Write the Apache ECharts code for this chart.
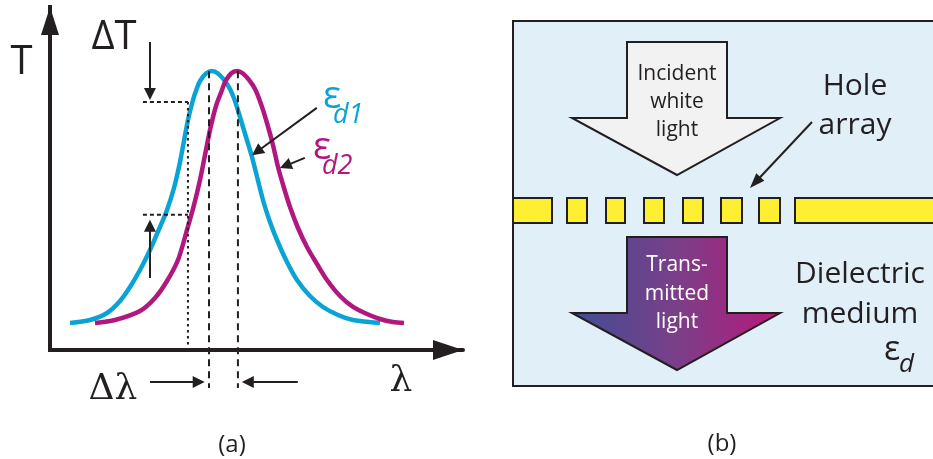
<!DOCTYPE html>
<html>
<head>
<meta charset="utf-8">
<script src="https://cdn.jsdelivr.net/npm/echarts@6/dist/echarts.min.js"></script>
<style>html,body{margin:0;padding:0;background:#fff}#c{width:933px;height:459px}</style>
</head>
<body>
<div id="c"></div>
<script>
// ---- data (arbitrary units: wavelength 0-100, transmission 0-100) ----
const cyanLambda = [4.84, 9.69, 13.80, 16.95, 19.37, 21.79, 24.21, 26.63, 28.33, 30.02, 31.48, 33.41, 34.62, 35.59, 36.32, 37.77, 39.23,
  40.68, 42.13, 43.58, 44.79, 46.00, 47.46, 48.91, 51.57, 53.27, 54.96, 57.38, 59.81, 62.95, 66.10, 69.73, 73.37, 79.90];
const cyanT = [7.87, 8.75, 10.79, 14.29, 18.37, 23.32, 29.15, 35.86, 40.82, 47.23, 54.81, 67.06, 72.89, 76.38, 78.43, 80.61, 81.34,
  80.61, 78.72, 76.09, 72.59, 67.93, 62.10, 56.27, 43.73, 37.32, 32.07, 25.66, 20.41, 15.74, 12.54, 10.20, 8.75, 7.87];
const magLambda = [10.90, 15.74, 21.79, 25.42, 28.33, 30.99, 33.17, 34.87, 36.32, 37.53, 38.74, 40.19, 41.65, 42.37, 43.83, 45.28,
  46.73, 48.18, 49.64, 51.09, 52.54, 53.99, 55.21, 56.66, 58.11, 60.05, 62.23, 64.65, 67.07, 70.22, 73.37, 76.76, 79.90, 83.05, 85.71];
const magT = [7.87, 8.75, 11.37, 15.16, 20.12, 26.24, 34.99, 42.27, 49.56, 56.85, 64.14, 71.14, 75.80, 78.13, 80.61, 81.34,
  80.61, 78.72, 76.09, 71.72, 66.18, 59.77, 53.35, 47.23, 41.69, 35.57, 30.03, 25.07, 20.41, 15.74, 12.54, 10.50, 9.04, 8.16, 7.87];
const peakLambda = [38.5, 45.5];          // dashed lines at the two peaks
const peakT = 81.3;
const halfLambda = 33.4;                  // dotted guide
const guideT = [72.3, 39.4];              // dotted horizontal guides (ΔT)
const guideStart = 22.5;
const belowAxis = -11.1;

const INK = '#231f20', CYAN = '#0aa3d5', MAG = '#b0187f';

const chart = echarts.init(document.getElementById('c'), null, {renderer: 'canvas'});

function zip(a, b) { return a.map((v, i) => [v, b[i]]); }
function guide(data, type, z) {
  return {type: 'line', data: data, symbol: 'none', clip: false, silent: true, z: z || 5,
    lineStyle: {color: INK, width: 2, type: type}};
}
function arr(x1, y1, x2, y2) { return {coords: [[x1, y1], [x2, y2]]}; }

// arrowhead polygon for graphic arrows (panel b)
function head(x1, y1, x2, y2, len, hw) {
  const dx = x2 - x1, dy = y2 - y1, L = Math.hypot(dx, dy);
  const ux = dx / L, uy = dy / L, bx = x2 - ux * len, by = y2 - uy * len;
  return [[x2, y2], [bx - uy * hw, by + ux * hw], [bx + uy * hw, by - ux * hw]];
}

const holeX = [[513, 552], [567, 587], [606, 625], [644, 664], [683, 703], [721, 742], [759, 780], [795, 945]];
const font = 'Open Sans';
const serif = 'DejaVu Serif';

function txt(text, x, y, size, color, opts) {
  return Object.assign({type: 'text', x: x, y: y, silent: true, z: 100,
    style: Object.assign({text: text, fill: color || INK, fontSize: size, fontFamily: font,
      align: 'center', verticalAlign: 'middle'}, opts || {})});
}

const graphics = [
  // panel (a) labels
  txt('T', 21.5, 63, 40),
  txt('ΔT', 114, 38, 40),
  txt('Δλ', 113, 390, 36, INK, {fontFamily: serif}),
  txt('λ', 401, 382, 36, INK, {fontFamily: serif}),
  txt('ε', 332, 97, 38, CYAN),
  txt('d1', 333, 115, 27, CYAN, {align: 'left', fontStyle: 'italic'}),
  txt('ε', 322, 148, 38, MAG),
  txt('d2', 322, 166, 27, MAG, {align: 'left', fontStyle: 'italic'}),
  txt('(a)', 232, 445, 24),
  txt('(b)', 722, 444, 24),
  // panel (b)
  {type: 'rect', shape: {x: 513, y: 21, width: 440, height: 365}, z: 1,
    style: {fill: '#e1eff8', stroke: INK, lineWidth: 2}},
  {type: 'polygon', z: 2, shape: {points: [[627, 42], [727, 42], [727, 118], [780, 118], [677, 175], [572, 118], [627, 118]]},
    style: {fill: '#f2f2f2', stroke: INK, lineWidth: 2}},
  {type: 'polygon', z: 2, shape: {points: [[627, 237], [727, 237], [727, 313], [780, 313], [677, 370], [572, 313], [627, 313]]},
    style: {fill: new echarts.graphic.LinearGradient(0, 0, 1, 0, [{offset: 0, color: '#3f4e95'}, {offset: 0.5, color: '#7a3f88'}, {offset: 1, color: '#b8187c'}]),
      stroke: INK, lineWidth: 2}},
  {type: 'line', z: 3, shape: {x1: 812, y1: 122, x2: 757, y2: 180.5}, style: {stroke: INK, lineWidth: 2}},
  {type: 'polygon', z: 3, shape: {points: head(812, 122, 750, 188, 15, 5.5)}, style: {fill: INK}},
  txt('Incident', 677, 74, 21),
  txt('white', 677, 102.5, 21),
  txt('light', 677, 130.5, 21),
  txt('Hole', 855, 86, 30),
  txt('array', 855, 125, 30),
  txt('Trans-', 677, 265, 21, '#ffffff'),
  txt('mitted', 677, 294, 21, '#ffffff'),
  txt('light', 677, 322, 21, '#ffffff'),
  txt('Dielectric', 860, 274, 30),
  txt('medium', 860, 314, 30),
  txt('ε', 892, 350, 34),
  txt('d', 899, 365, 26, INK, {align: 'left', fontStyle: 'italic'})
];
holeX.forEach(function (h) {
  graphics.push({type: 'rect', z: 4, shape: {x: h[0], y: 198, width: h[1] - h[0], height: 25},
    style: {fill: '#ffef33', stroke: INK, lineWidth: 2}});
});

const option = {
  animation: false,
  backgroundColor: '#ffffff',
  grid: {left: 50, top: 7, width: 413, height: 343},
  xAxis: {type: 'value', min: 0, max: 100,
    axisLine: {show: true, onZero: false, symbol: ['none', 'triangle'], symbolSize: [20, 30], symbolOffset: [0, -15],
      lineStyle: {color: INK, width: 4}},
    axisTick: {show: false}, axisLabel: {show: false}, splitLine: {show: false}},
  yAxis: {type: 'value', min: 0, max: 100,
    axisLine: {show: true, onZero: false, symbol: ['none', 'triangle'], symbolSize: [18, 28], symbolOffset: [0, -14],
      lineStyle: {color: INK, width: 4, cap: 'square'}},
    axisTick: {show: false}, axisLabel: {show: false}, splitLine: {show: false}},
  series: [
    {type: 'line', data: zip(cyanLambda, cyanT), smooth: 0.3, symbol: 'none', z: 3,
      lineStyle: {color: CYAN, width: 4.5}},
    {type: 'line', data: zip(magLambda, magT), smooth: 0.3, symbol: 'none', z: 3,
      lineStyle: {color: MAG, width: 4.5}},
    guide([[peakLambda[0], peakT], [peakLambda[0], belowAxis]], [7, 5], 6),
    guide([[peakLambda[1], peakT], [peakLambda[1], belowAxis]], [7, 5], 6),
    guide([[halfLambda, guideT[0]], [halfLambda, 0]], [2.5, 3.5]),
    guide([[guideStart, guideT[0]], [halfLambda, guideT[0]]], [4, 3]),
    guide([[guideStart, guideT[1]], [halfLambda, guideT[1]]], [4, 3]),
    {type: 'lines', coordinateSystem: 'cartesian2d', clip: false, z: 7, silent: true,
      symbol: ['none', 'triangle'], symbolSize: 12,
      lineStyle: {color: INK, width: 2, opacity: 1},
      data: [
        arr(24.2, 89.8, 24.2, 74.6),
        arr(24.2, 21.0, 24.2, 36.2),
        arr(24.2, -9.3, 36.0, -9.3),
        arr(60.0, -9.3, 47.9, -9.3),
        arr(64.6, 70.6, 50.1, 57.8),
        arr(61.7, 56.0, 57.0, 53.7)
      ]}
  ],
  graphic: {elements: graphics}
};
chart.setOption(option);
</script>
</body>
</html>
